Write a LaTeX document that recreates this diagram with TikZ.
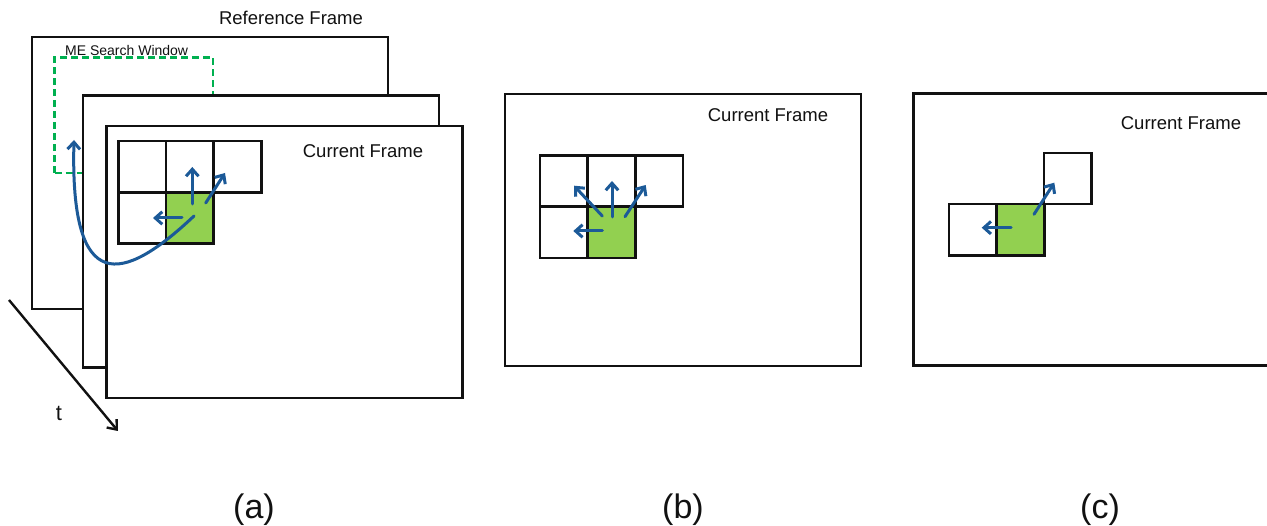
\documentclass[tikz,border=0pt]{standalone}
\usepackage{fontspec}
\setmainfont{Liberation Sans}
\usetikzlibrary{arrows.meta}

\definecolor{mvblue}{HTML}{1C5A98}
\definecolor{blockgreen}{HTML}{92D050}
\definecolor{winegreen}{HTML}{00B050}
\definecolor{inkblack}{HTML}{111111}

\tikzset{
  frame/.style={draw=inkblack, line width=2.6, fill=white, inner sep=0, outer sep=0,
    anchor=north west, minimum width=356, minimum height=272},
  cell/.style={draw=inkblack, line width=2.6, inner sep=0, outer sep=0,
    anchor=north west, minimum width=47.7, minimum height=51.3},
  curcell/.style={cell, fill=blockgreen},
  mv/.style={draw=mvblue, line width=3, line cap=round,
    -{Straight Barb[length=7pt,width=12.5pt]}},
  framelabel/.style={font=\fontsize{18.5}{20}\selectfont, text=inkblack, inner sep=0},
  panellabel/.style={font=\fontsize{34}{36}\selectfont, text=inkblack, inner sep=0},
  searchwin/.style={draw=winegreen, line width=2.4, dash pattern=on 7pt off 4pt},
}

\begin{document}
\begin{tikzpicture}[x=1pt, y=-1pt]
\useasboundingbox (0,0) rectangle (1267,526);
\clip (0,0) rectangle (1267,526);

% ---------------- (a): reference frame, search window, current frame
\node[frame] (refA) at (32,37) {};
\node[framelabel] (refLabel) at (291,18) {Reference Frame};
\draw[searchwin] (54.5,173) -- (54.5,57.5) -- (213,57.5) -- (213,96);
\draw[searchwin] (54.5,173) -- (84,173);
\node[font=\fontsize{14}{15}\selectfont, text=inkblack, inner sep=0, anchor=west]
  (swLabel) at (65,51) {ME Search Window};

\node[frame] (midA) at (83,95.7) {};
\node[frame] (curA) at (106.7,126) {};
\node[framelabel] (curLabelA) at (363,151) {Current Frame};

% block neighbourhood
\node[cell] (a11) at (118.3,141) {};
\node[cell] (a12) at (166,141) {};
\node[cell] (a13) at (213.7,141) {};
\node[cell] (a21) at (118.3,192.3) {};
\node[curcell] (a22) at (166,192.3) {};

% candidate motion vectors
\coordinate (aUpS) at (192.3,204);   \coordinate (aUpE) at (192.3,167);
\coordinate (aDgS) at (205.7,203);   \coordinate (aDgE) at (225,173);
\coordinate (aLfS) at (182,218);     \coordinate (aLfE) at (153,218);
\draw[mv] (aUpS) -- (aUpE);
\draw[mv] (aDgS) -- (aDgE);
\draw[mv] (aLfS) -- (aLfE);

% temporal candidate pointing into the reference frame
\coordinate (aTS) at (194,216);
\coordinate (aTE) at (74,140);
\draw[mv] (aTS) .. controls (122,284) and (70,296) .. (aTE);

% time axis
\coordinate (tS) at (9,300);
\coordinate (tE) at (118,431);
\draw[draw=inkblack, line width=2.4, -{Straight Barb[length=8pt,width=13pt]}] (tS) -- (tE);
\node[font=\fontsize{22}{24}\selectfont, text=inkblack, inner sep=0] (tLabel) at (59,413) {t};

% ---------------- (b)
\node[frame] (curB) at (505,94) {};
\node[framelabel] (curLabelB) at (768,115) {Current Frame};
\node[cell] (b11) at (540,155.3) {};
\node[cell] (b12) at (587.7,155.3) {};
\node[cell] (b13) at (635.4,155.3) {};
\node[cell] (b21) at (540,206.6) {};
\node[curcell] (b22) at (587.7,206.6) {};

\coordinate (bUpS) at (612,217);   \coordinate (bUpE) at (612,181);
\coordinate (bRtS) at (625,216.7); \coordinate (bRtE) at (645.7,185);
\coordinate (bLtS) at (602.3,216); \coordinate (bLtE) at (574,185.7);
\coordinate (bLfS) at (602.3,231); \coordinate (bLfE) at (573.3,231);
\draw[mv] (bUpS) -- (bUpE);
\draw[mv] (bRtS) -- (bRtE);
\draw[mv] (bLtS) -- (bLtE);
\draw[mv] (bLfS) -- (bLfE);

% ---------------- (c)
\node[frame] (curC) at (913.3,93.3) {};
\node[framelabel] (curLabelC) at (1181,123) {Current Frame};
\node[cell] (c13) at (1044,152.9) {};
\node[cell] (c21) at (949,204.2) {};
\node[curcell] (c22) at (996.7,204.2) {};

\coordinate (cLfS) at (1011,227.7);  \coordinate (cLfE) at (981.7,227.7);
\coordinate (cDgS) at (1034,214.3);  \coordinate (cDgE) at (1054.3,182.7);
\draw[mv] (cLfS) -- (cLfE);
\draw[mv] (cDgS) -- (cDgE);

% ---------------- panel captions
\node[panellabel] (capA) at (254,510) {(a)};
\node[panellabel] (capB) at (683,510) {(b)};
\node[panellabel] (capC) at (1100,510) {(c)};
\end{tikzpicture}
\end{document}
